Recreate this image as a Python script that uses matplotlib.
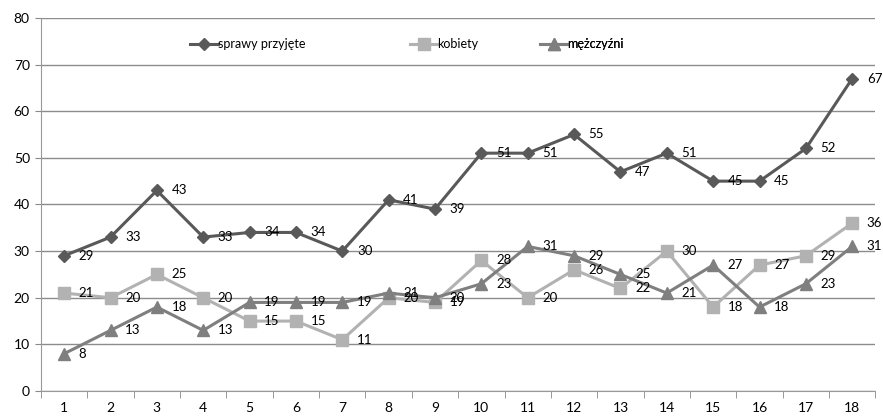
import numpy as np
import matplotlib.pyplot as plt

# ----------------------------
# Data
# ----------------------------
months = list(range(1, 19))
sprawy = [29, 33, 43, 33, 34, 34, 30, 41, 39, 51, 51, 55, 47, 51, 45, 45, 52, 67]
kobiety = [21, 20, 25, 20, 15, 15, 11, 20, 19, 28, 20, 26, 22, 30, 18, 27, 29, 36]
mezczyzni = [8, 13, 18, 13, 19, 19, 19, 21, 20, 23, 31, 29, 25, 21, 27, 18, 23, 31]

names = ["sprawy przyjęte", "kobiety", "mężczyźni"]
colors = ["#595959", "#b2b2b2", "#7f7f7f"]
markers = ["D", "s", "^"]
msizes = [6, 8, 8]

plt.rcParams['font.family'] = ['Lato', 'DejaVu Sans']

fig = plt.figure(figsize=(8.83, 4.16), dpi=100)
ax = fig.add_axes([0.0464, 0.060, 0.945, 0.897])

series = [sprawy, kobiety, mezczyzni]
handles = []
for vals, name, c, m, ms in zip(series, names, colors, markers, msizes):
    h, = ax.plot(months, vals, color=c, marker=m, markersize=ms, linewidth=2.2,
                 label=name, zorder=3)
    handles.append(h)
    for x, v in zip(months, vals):
        ax.annotate(str(v), (x, v), xytext=(10.5, 0), textcoords="offset points",
                    va="center", ha="left", fontsize=9.5, color="black", zorder=4)

ax.set_xlim(0.5, 18.5)
ax.set_ylim(0, 80)
ax.set_yticks(range(0, 81, 10))
ax.set_xticks(months)
ax.set_xticks(np.arange(0.5, 18.6, 1), minor=True)
ax.tick_params(axis="x", which="major", length=0, labelsize=10, pad=8)
ax.tick_params(axis="x", which="minor", length=5, color="#888888")
ax.tick_params(axis="y", length=4, color="#888888", labelsize=10, pad=4)

ax.grid(axis="y", color="#8c8c8c", linewidth=1.0, zorder=0)
for s in ["top", "right"]:
    ax.spines[s].set_visible(False)
ax.spines["left"].set_color("#999999")
ax.spines["bottom"].set_color("#999999")

# legend entries spread across the top like the original
legend_pos = [(0.173, 0.93), (0.436, 0.93), (0.592, 0.93)]
for h, name, pos in zip(handles, names, legend_pos):
    lg = ax.legend([h], [name], loc="center left", bbox_to_anchor=pos,
                   frameon=False, fontsize=9, handlelength=2.2,
                   handletextpad=0.0, borderaxespad=0)
    ax.add_artist(lg)

fig.savefig("out.png", dpi=100)
